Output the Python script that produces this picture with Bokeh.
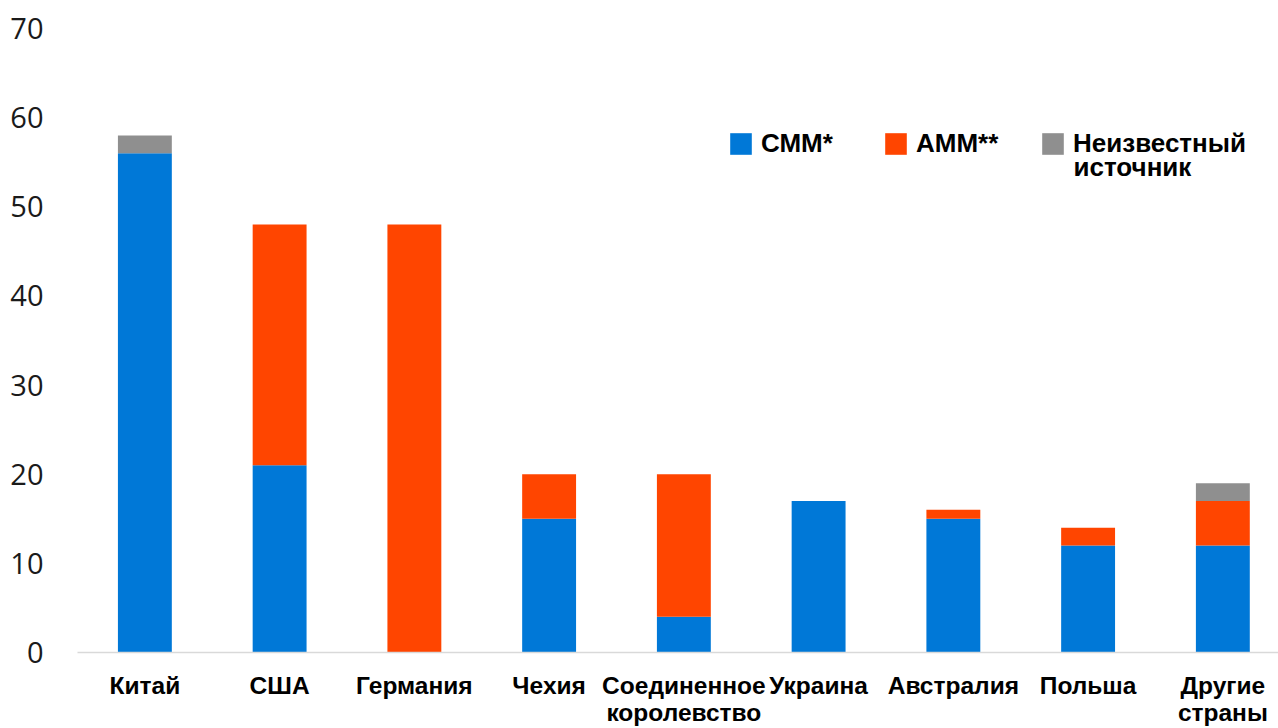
from bokeh.plotting import figure
from bokeh.models import ColumnDataSource, Range1d, FixedTicker, Legend, LegendItem, Label
from bokeh.embed import file_html
from bokeh.resources import INLINE

# Data: mine methane sources by country
countries = ["Китай", "США", "Германия", "Чехия", "Соединенное\nкоролевство",
             "Украина", "Австралия", "Польша", "Другие\nстраны"]
cmm = [56, 21, 0, 15, 4, 17, 15, 12, 12]
amm = [0, 27, 48, 5, 16, 0, 1, 2, 5]
unknown = [2, 0, 0, 0, 0, 0, 0, 0, 2]
y_ticks = [0, 10, 20, 30, 40, 50, 60, 70]
series_labels = ["СММ*", "АММ**", "Неизвестный"]
series_label_cont = "источник"
series_colors = ["#0078D7", "#FF4500", "#8F8F8F"]

positions = [i + 0.5 for i in range(len(countries))]
source = ColumnDataSource(dict(x=positions, cmm=cmm, amm=amm, unknown=unknown))

p = figure(width=1278, height=728, output_backend="svg", toolbar_location=None,
           x_range=Range1d(0, 8.913), y_range=Range1d(0, 70),
           min_border_left=77, min_border_right=0, min_border_top=28, min_border_bottom=75)
p.outline_line_color = None
p.xgrid.visible = False
p.ygrid.visible = False
p.background_fill_color = "white"
p.border_fill_color = "white"

renderers = p.vbar_stack(["cmm", "amm", "unknown"], x="x", width=0.4, source=source,
                         fill_color=series_colors, line_color=None)

# y axis: large plain numbers, no line or ticks
p.yaxis.ticker = FixedTicker(ticks=y_ticks)
p.yaxis.axis_line_color = None
p.yaxis.major_tick_line_color = None
p.yaxis.major_tick_out = 0
p.yaxis.minor_tick_line_color = None
p.yaxis.minor_tick_out = 0
p.yaxis.major_label_text_font = "Open Sans"
p.yaxis.major_label_text_font_size = "29px"
p.yaxis.major_label_text_color = "#1a1a1a"
p.yaxis.major_label_standoff = 34

# x axis: country names under each bar
p.xaxis.ticker = FixedTicker(ticks=positions)
p.xaxis.major_label_overrides = {pos: name for pos, name in zip(positions, countries)}
p.xaxis.axis_line_color = "#D9D9D9"
p.xaxis.axis_line_width = 1.5
p.xaxis.major_tick_line_color = None
p.xaxis.major_tick_out = 0
p.xaxis.minor_tick_line_color = None
p.xaxis.minor_tick_out = 0
p.xaxis.major_label_text_font = "Liberation Sans"
p.xaxis.major_label_text_font_style = "bold"
p.xaxis.major_label_text_font_size = "24.5px"
p.xaxis.major_label_text_line_height = 1.0
p.xaxis.major_label_text_color = "black"
p.xaxis.major_label_standoff = 19

# one legend block per series, laid out in a row
legend_x = [650, 805, 962]
for lbl, r, lx in zip(series_labels, renderers, legend_x):
    lg = Legend(
        items=[LegendItem(label=lbl, renderers=[r])],
        location=(lx, 493),
        glyph_width=27, glyph_height=27, label_standoff=7,
        padding=0, margin=0, border_line_color=None, background_fill_alpha=0,
        label_text_font="Liberation Sans", label_text_font_style="bold",
        label_text_font_size="26px", label_text_color="black",
    )
    p.add_layout(lg)

p.add_layout(Label(x=996, y=486, x_units="screen", y_units="screen", text=series_label_cont,
                   text_font="Liberation Sans", text_font_style="bold", text_font_size="26px",
                   text_color="black", text_baseline="middle"))

open("out.html", "w").write(file_html(p, INLINE))
